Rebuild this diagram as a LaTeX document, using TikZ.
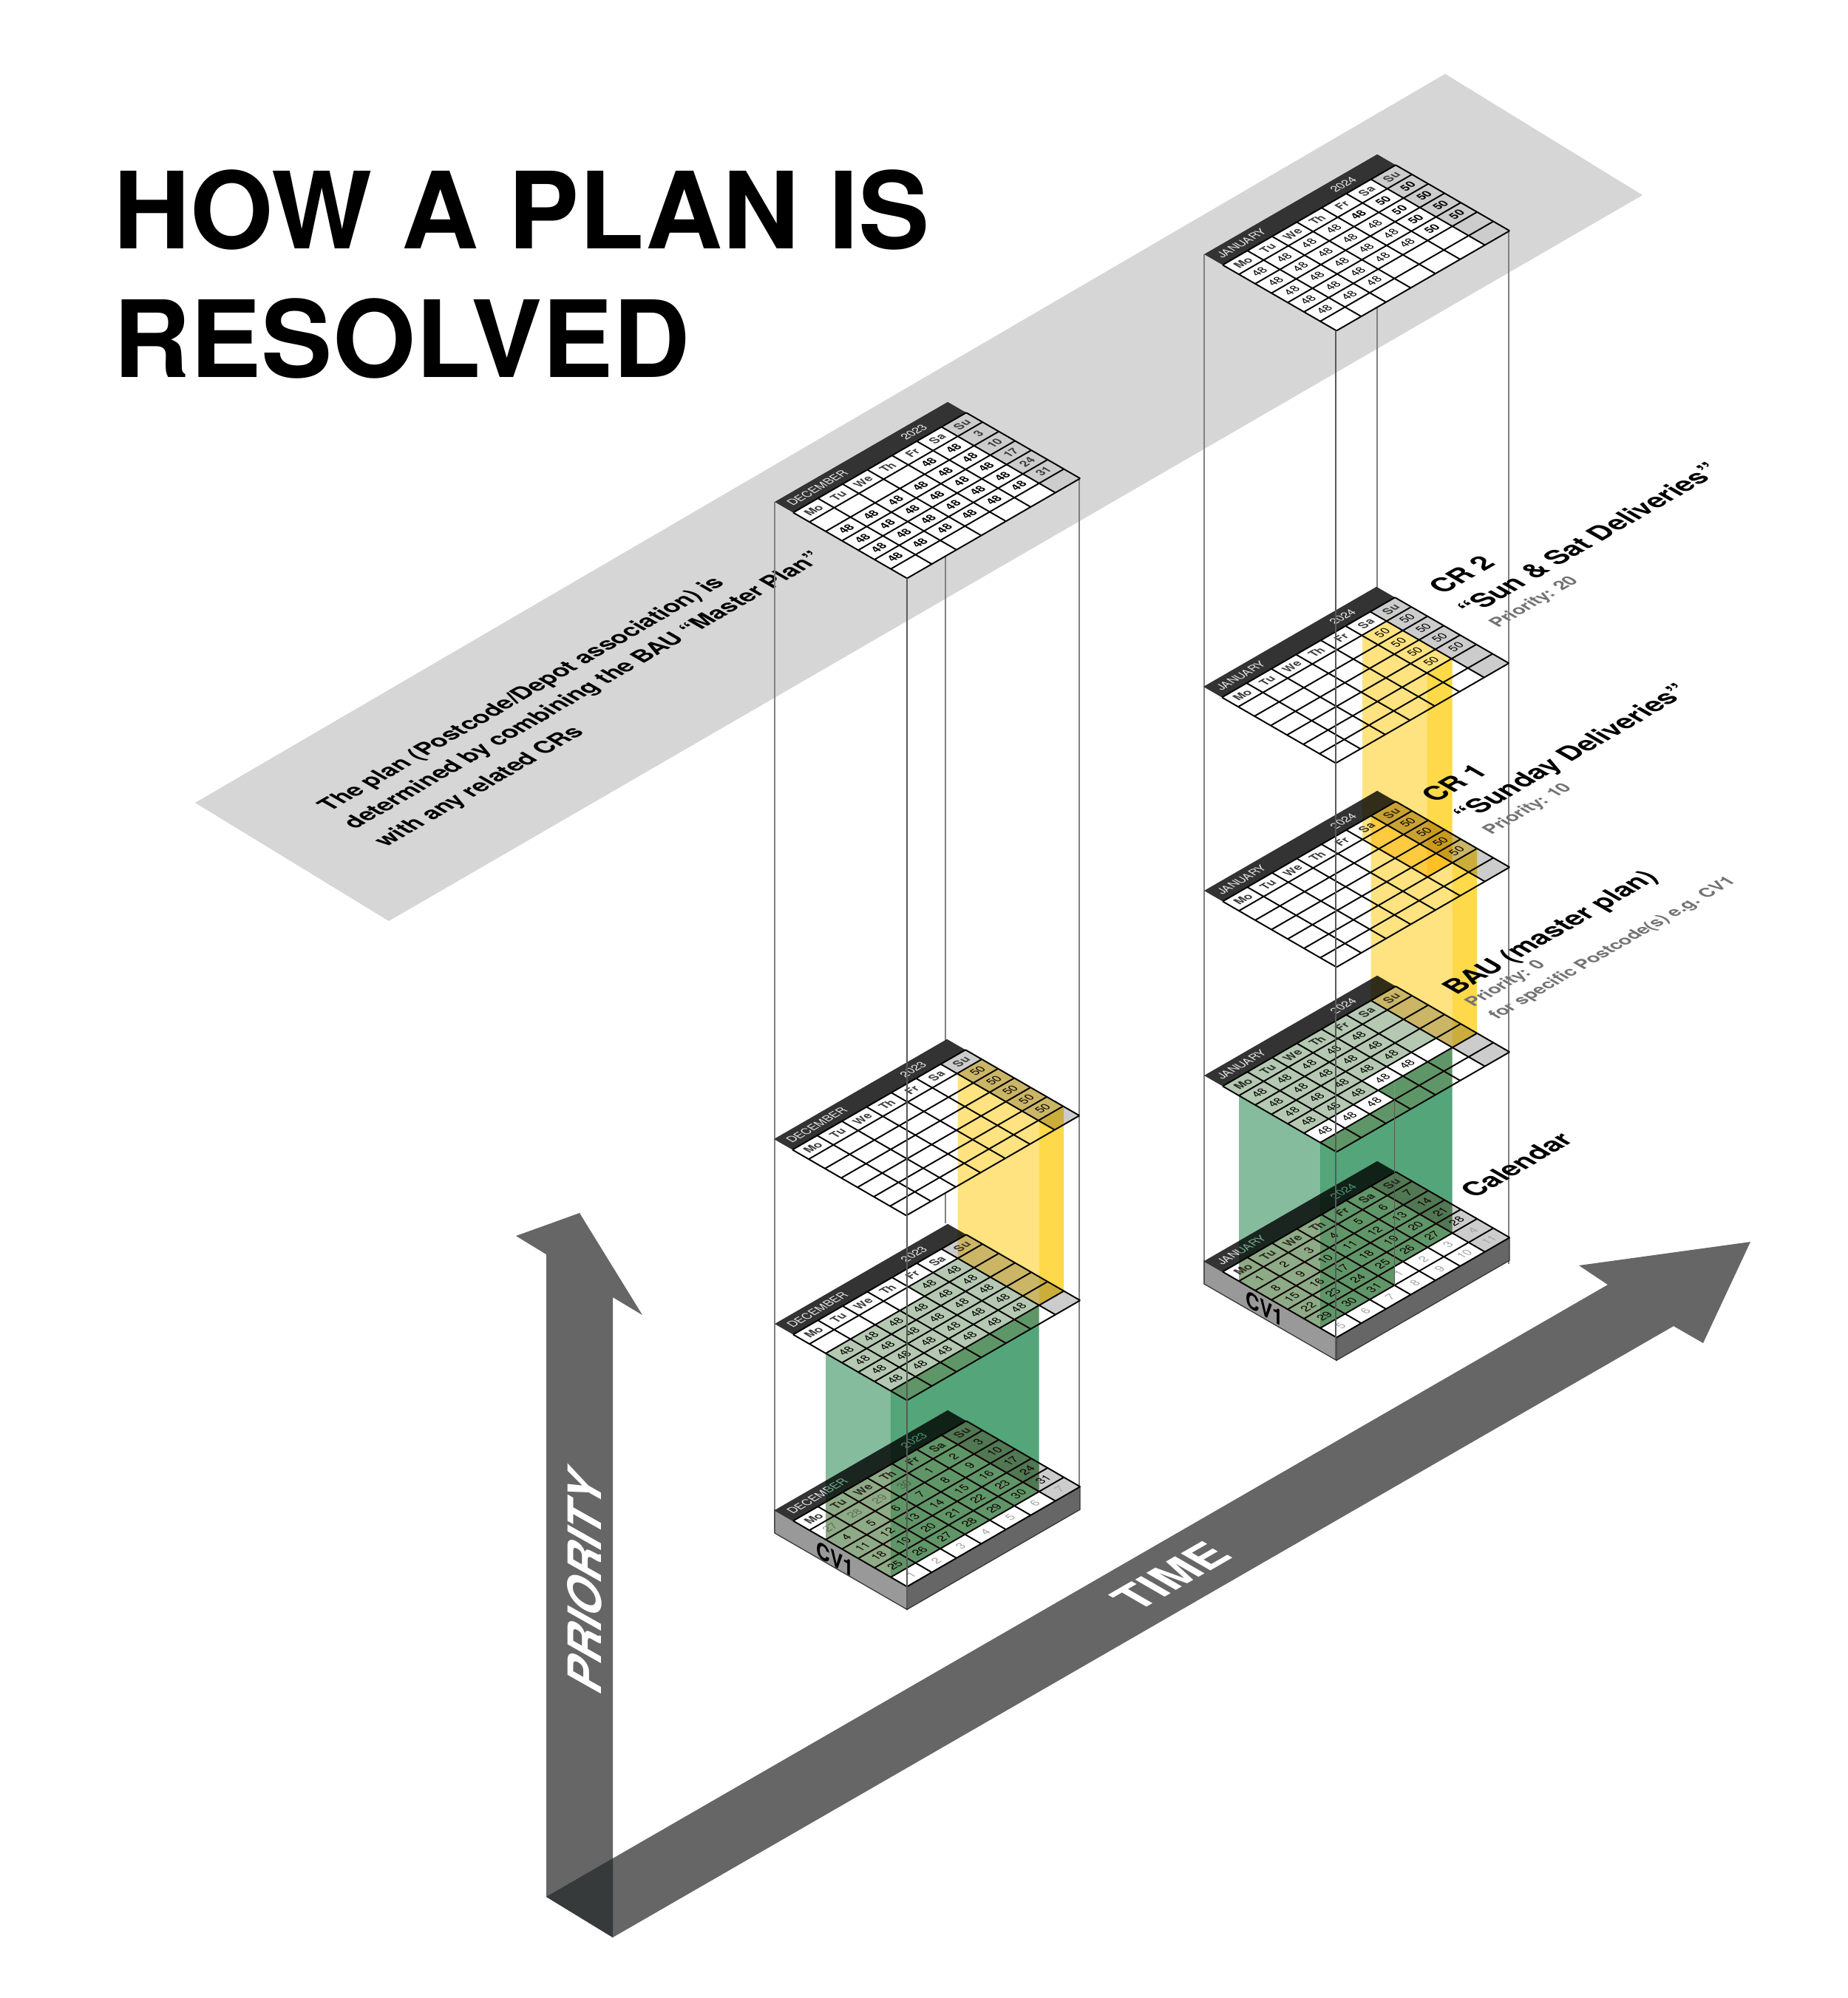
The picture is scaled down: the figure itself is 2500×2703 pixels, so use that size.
\documentclass[tikz,border=0pt]{standalone}
\usepackage{fontspec}
\setmainfont{TeX Gyre Heros}
\definecolor{stripgrey}{RGB}{214,214,214}
\definecolor{bandfill}{RGB}{51,51,51}
\definecolor{sunfill}{RGB}{204,204,204}
\definecolor{weekgrey}{RGB}{60,60,60}
\definecolor{dimnum}{RGB}{165,165,165}
\definecolor{axisgrey}{RGB}{102,102,102}
\definecolor{axisdark}{RGB}{55,58,58}
\definecolor{yellowlit}{RGB}{254,227,128}
\definecolor{yellowdark}{RGB}{254,217,74}
\definecolor{greenlit}{RGB}{133,188,157}
\definecolor{greendark}{RGB}{84,165,122}
\definecolor{greenpale}{RGB}{181,201,178}
\definecolor{greentint}{RGB}{255,232,219}
\definecolor{greenlift}{RGB}{16,0,0}
\tikzset{
  plate frame/.style 2 args={cm={.866,.5,-.866,.5,(#1+25,#2+14.45)}, x=.386cm, y=-.254cm},
  iso/.style={cm={.866,.5,-.866,.5,(0,0)}, anchor=base west, inner sep=0},
  cellnum/.style={transform shape, inner sep=0, font=\fontsize{4.4}{5}\selectfont},
  cellbold/.style={font=\fontsize{4.4}{5}\selectfont\bfseries},
  gridline/.style={black, line width=.55pt},
  stem/.style={gray, line width=.45pt},
  stemfront/.style={black!65, line width=.45pt},
  sideleft/.style={fill=black!40, draw=black!80, line width=.35pt},
  sideright/.style={fill=axisgrey, draw=black!80, line width=.35pt},
  yellowface/.style={fill=yellowlit, blend mode=multiply},
  yellowside/.style={fill=yellowdark, blend mode=multiply},
  greenface/.style={fill=greenlit, blend mode=multiply},
  greenside/.style={fill=greendark, blend mode=multiply},
  paletop/.style={fill=greenpale, blend mode=multiply},
  tint/.style={fill=greentint, blend mode=multiply},
  lift/.style={fill=greenlift, blend mode=screen},
  bigname/.style={iso, font=\fontsize{10.4}{12}\selectfont\bfseries},
  smallname/.style={iso, text=black!55, font=\fontsize{6.8}{9}\selectfont\bfseries},
  striptext/.style={iso, font=\fontsize{9}{11}\selectfont\bfseries},
  declare function={isox(\i,\j)=33.43*\i+22*\j+25; isoy(\i,\j)=12.7*\j+14.45-19.3*\i;}
}
\newcommand{\dimn}[1]{\textcolor{dimnum}{#1}}
\newcommand{\sunn}[1]{\textcolor{weekgrey}{#1}}
% one row of a month sheet
\newcommand{\weekrow}[3][]{%
  \foreach \lab [count=\col from 0] in {#3} {
    \node[cellnum,#1] at (\col+.5,#2+.5) {\lab};
  }%
}
% a month sheet: left corner x, y, month, year, rows
\newcommand{\calplate}[5]{%
  \begin{scope}[plate frame={#1}{#2}]
    \fill[bandfill] (0,-1.138) rectangle (7,0);
    \fill[white] (0,0) rectangle (7,7);
    \fill[sunfill] (6,0) rectangle (7,7);
    \foreach \n in {0,...,7} {
      \draw[gridline] (\n,0) -- (\n,7);
      \draw[gridline] (0,\n) -- (7,\n);
    }
    \foreach \lab [count=\col from 0] in {Mo,Tu,We,Th,Fr,Sa,Su} {
      \node[cellnum,cellbold,text=weekgrey] at (\col+.5,.5) {\lab};
    }
    \node[cellnum,anchor=west,text=black!10] at (.2,-.57) {#3};
    \node[cellnum,anchor=east,text=black!10] at (5.72,-.57) {#4};
    #5
  \end{scope}%
}
% upright face between two sheets
\newcommand{\wall}[8]{%
  \path[#1] ({#2+isox(#5,#6)},{#3+isoy(#5,#6)}) -- ({#2+isox(#7,#8)},{#3+isoy(#7,#8)})
    -- ({#2+isox(#7,#8)},{#4+isoy(#7,#8)}) -- ({#2+isox(#5,#6)},{#4+isoy(#5,#6)}) -- cycle;%
}
% shift of colour where a sheet lies in a green volume
\newcommand{\tintpoly}[1]{\path[tint] #1; \path[lift] #1;}
\begin{document}
\begin{tikzpicture}[x=.01cm, y=-.01cm]
  \useasboundingbox (0,0) rectangle (2500,2703);
  \fill[white] (0,0) rectangle (2500,2703);
  % Backing strip
  \fill[stripgrey] (264,1086) -- (1955,100) -- (2222,264) -- (526,1246) -- cycle;
  % Title
  \node[anchor=base west, inner sep=0, font=\fontsize{41}{44}\selectfont\bfseries] (titleA) at (153,336) {HOW A PLAN IS};
  \node[anchor=base west, inner sep=0, font=\fontsize{41}{44}\selectfont\bfseries] (titleB) at (153,510) {RESOLVED};
  % Strip text
  \node[striptext] (stripA) at (446,1099) {The plan (Postcode/Depot association) is};
  \node[striptext] (stripB) at (480,1123) {determined by combining the BAU “Master Plan”};
  \node[striptext] (stripC) at (522,1147) {with any related CRs};
  % Axes
  \fill[axisgrey] (739,2566) -- (739,1697) -- (698,1672) -- (784,1641) -- (869,1779) -- (829,1755) -- (829,2621) -- cycle;
  \fill[axisgrey] (739,2566) -- (2175,1738) -- (2136,1712) -- (2368,1680) -- (2304,1817) -- (2264,1794) -- (829,2621) -- cycle;
  \fill[axisdark] (739,2566) -- (829,2514) -- (829,2621) -- cycle;
  \node[cm={0,1,-1.01,.57,(0,0)}, anchor=base west, inner sep=0, text=white, font=\fontsize{17.5}{20}\selectfont\bfseries] (axisP) at (813,2297) {PRIORITY};
  \node[iso, text=white, font=\fontsize{18}{20}\selectfont\bfseries] (axisT) at (1538,2182) {TIME};
  % Stems, December
  \draw[stem] (1048,679) -- (1048,2074);
  \draw[stem] (1460,647) -- (1460,2043);
  \draw[stem] (1279,600) -- (1279,1655);
  % Stems, January
  \draw[stem] (1629,344) -- (1629,1737);
  \draw[stem] (2041,313) -- (2041,1710);
  \draw[stem] (1863,300) -- (1863,795);
  % Bases
  \wall{sideleft}{1048}{2043}{2074}{0}{-1.138}{0}{7}
  \wall{sideright}{1048}{2043}{2074}{0}{7}{7}{7}
  \wall{sideleft}{1629}{1706}{1737}{0}{-1.138}{0}{7}
  \wall{sideright}{1629}{1706}{1737}{0}{7}{7}{7}
  % December sheets, top to bottom
  \calplate{1048}{679}{DECEMBER}{2023}{
    \weekrow[cellbold]{1}{,,,,48,48,\sunn{3}}
    \weekrow[cellbold]{2}{48,48,48,48,48,48,\sunn{10}}
    \weekrow[cellbold]{3}{48,48,48,48,48,48,\sunn{17}}
    \weekrow[cellbold]{4}{48,48,48,48,48,48,\sunn{24}}
    \weekrow[cellbold]{5}{48,48,48,48,48,48,\sunn{31}}
  }
  \calplate{1047}{1541}{DECEMBER}{2023}{
    \weekrow{1}{,,,,,,50}
    \weekrow{2}{,,,,,,50}
    \weekrow{3}{,,,,,,50}
    \weekrow{4}{,,,,,,50}
    \weekrow{5}{,,,,,,50}
  }
  \calplate{1048}{1791}{DECEMBER}{2023}{
    \weekrow{1}{,,,,48,48}
    \weekrow{2}{48,48,48,48,48,48}
    \weekrow{3}{48,48,48,48,48,48}
    \weekrow{4}{48,48,48,48,48,48}
    \weekrow{5}{48,48,48,48,48,48}
  }
  \calplate{1048}{2043}{DECEMBER}{2023}{
    \weekrow{1}{\dimn{27},\dimn{28},\dimn{29},\dimn{30},1,2,3}
    \weekrow{2}{4,5,6,7,8,9,10}
    \weekrow{3}{11,12,13,14,15,16,17}
    \weekrow{4}{18,19,20,21,22,23,24}
    \weekrow{5}{25,26,27,28,29,30,31}
    \weekrow{6}{\dimn{1},\dimn{2},\dimn{3},\dimn{4},\dimn{5},\dimn{6},\dimn{7}}
  }
  % January sheets, top to bottom
  \calplate{1629}{344}{JANUARY}{2024}{
    \weekrow{1}{48,48,48,48,\textbf{48},\textbf{50},\textbf{50}}
    \weekrow{2}{48,48,48,48,48,\textbf{50},\textbf{50}}
    \weekrow{3}{48,48,48,48,48,\textbf{50},\textbf{50}}
    \weekrow{4}{48,48,48,48,48,\textbf{50},\textbf{50}}
    \weekrow{5}{48,48,48}
  }
  \calplate{1628}{929}{JANUARY}{2024}{
    \weekrow{1}{,,,,,50,50}
    \weekrow{2}{,,,,,50,50}
    \weekrow{3}{,,,,,50,50}
    \weekrow{4}{,,,,,50,50}
  }
  \calplate{1629}{1205}{JANUARY}{2024}{
    \weekrow{1}{,,,,,,50}
    \weekrow{2}{,,,,,,50}
    \weekrow{3}{,,,,,,50}
    \weekrow{4}{,,,,,,50}
  }
  \calplate{1629}{1455}{JANUARY}{2024}{
    \weekrow{1}{48,48,48,48,48}
    \weekrow{2}{48,48,48,48,48}
    \weekrow{3}{48,48,48,48,48}
    \weekrow{4}{48,48,48,48,48}
    \weekrow{5}{48,48,48}
  }
  \calplate{1629}{1706}{JANUARY}{2024}{
    \weekrow{1}{1,2,3,4,5,6,7}
    \weekrow{2}{8,9,10,11,12,13,14}
    \weekrow{3}{15,16,17,18,19,20,21}
    \weekrow{4}{22,23,24,25,26,27,28}
    \weekrow{5}{29,30,31,\dimn{1},\dimn{2},\dimn{3},\dimn{4}}
    \weekrow{6}{\dimn{5},\dimn{6},\dimn{7},\dimn{8},\dimn{9},\dimn{10},\dimn{11}}
  }
  % Yellow volumes
  \wall{yellowface}{1048}{1541}{1791}{6}{1}{6}{6}
  \wall{yellowside}{1048}{1541}{1791}{6}{6}{7}{6}
  \begin{scope}[plate frame={1047}{1541}]
    \path[yellowface] (6,1) rectangle (7,6);
  \end{scope}
  \wall{yellowface}{1629}{929}{1205}{5}{1}{5}{5}
  \wall{yellowside}{1629}{929}{1205}{5}{5}{6}{5}
  \begin{scope}[plate frame={1628}{929}]
    \path[yellowface] (5,1) rectangle (6,5);
  \end{scope}
  \wall{yellowface}{1629}{1205}{1455}{6}{0}{6}{5}
  \wall{yellowside}{1629}{1205}{1455}{6}{5}{7}{5}
  \begin{scope}[plate frame={1629}{1205}]
    \path[yellowface] (6,0) rectangle (7,5);
  \end{scope}
  % Green volumes
  \wall{greenface}{1048}{1791}{2043}{0}{2}{0}{6}
  \wall{greenside}{1048}{1791}{2043}{0}{6}{6}{6}
  \begin{scope}[plate frame={1048}{1791}]
    \path[paletop] (0,2) -- (4,2) -- (4,1) -- (6,1) -- (6,6) -- (0,6) -- cycle;
    \tintpoly{(0,6) -- (6,6) -- (5.34,7) -- (0,7) -- cycle}
  \end{scope}
  \begin{scope}[plate frame={1048}{2043}]
    \tintpoly{(0,2) -- (0,6) -- (6,6) -- (7,4.48) -- (7,0) -- (1.32,0) -- cycle}
  \end{scope}
  \wall{greenface}{1629}{1455}{1706}{0}{1}{0}{6}
  \wall{greenside}{1629}{1455}{1706}{0}{6}{3}{6}
  \wall{greenside}{1629}{1455}{1706}{3.66}{5}{6}{5}
  \begin{scope}[plate frame={1629}{1455}]
    \path[paletop] (0,0) -- (6,0) -- (6,4) -- (3,4) -- (3,5) -- (0,5) -- cycle;
    \path[greenside] (3,5) -- (3.66,5) -- (3,6) -- cycle;
    \tintpoly{(0,6) -- (3,6) -- (3,5) -- (6,5) -- (4.68,7) -- (0,7) -- cycle}
  \end{scope}
  \begin{scope}[plate frame={1629}{1706}]
    \tintpoly{(0,1) -- (0,6) -- (3,6) -- (3.66,5) -- (6,5) -- (7,3.48) -- (7,0) -- (.66,0) -- cycle}
  \end{scope}
  \draw[stemfront] ({1629+isox(3,6)},{1455+isoy(3,6)}) -- ({1629+isox(3,6)},{1706+isoy(3,6)});
  % Front stems run over the sheets
  \draw[stemfront] (1227,782) -- (1227,2175);
  \draw[stemfront] (1807,447) -- (1807,1839);
  % Base labels
  \node[cm={.866,-.5,0,1,(0,0)}, anchor=base west, inner sep=0, font=\fontsize{8.5}{10}\selectfont\bfseries] (baseDec) at (1104,2105) {CV1};
  \node[cm={.866,-.5,0,1,(0,0)}, anchor=base west, inner sep=0, font=\fontsize{8.5}{10}\selectfont\bfseries] (baseJan) at (1685,1766) {CV1};
  % Layer labels
  \node[bigname] (crTwoA) at (1952,805) {CR 2};
  \node[bigname] (crTwoB) at (1991,834) {“Sun \& Sat Deliveries”};
  \node[smallname] (crTwoC) at (2026,850) {Priority: 20};
  \node[bigname] (crOneA) at (1942,1087) {CR 1};
  \node[bigname] (crOneB) at (1985,1112) {“Sunday Deliveries”};
  \node[smallname] (crOneC) at (2017,1130) {Priority: 10};
  \node[bigname] (bauA) at (1970,1347) {BAU (master plan)};
  \node[smallname] (bauB) at (1993,1363) {Priority: 0};
  \node[smallname] (bauC) at (2025,1380) {for specific Postcode(s) e.g. CV1};
  \node[bigname] (calA) at (1995,1622) {Calendar};
\end{tikzpicture}
\end{document}
